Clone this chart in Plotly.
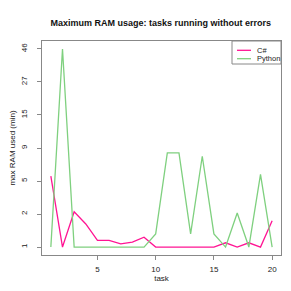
import numpy as np
import plotly.graph_objects as go

tasks = list(range(1, 21))
csharp = [5.6, 1, 2.2, 1.7, 1.2, 1.2, 1.1, 1.15, 1.3, 1, 1, 1, 1, 1, 1, 1.13, 1, 1.13, 1, 1.8]
python = [1, 46, 1, 1, 1, 1, 1, 1, 1, 1.4, 8.4, 8.4, 1.4, 8.0, 1.4, 1, 2.1, 1, 5.8, 1]
tick_labels = [1, 2, 5, 9, 15, 27, 46]
series_names = ["C#", "Python"]
series_colors = ["#FF1493", "#7FD07F"]

tick_pos = list(range(len(tick_labels)))


def to_axis(v):
    return np.interp(v, tick_labels, tick_pos)


fig = go.Figure()
for name, vals, col in zip(series_names, [csharp, python], series_colors):
    fig.add_trace(go.Scatter(x=tasks, y=to_axis(vals), mode="lines", name=name,
                             line=dict(color=col, width=1.3), showlegend=False))

# plot area in pixels: x 34..273, y 33..247
L, R, T, B = 34, 273, 33, 247


def px(x):
    return (x - L) / (R - L)


def py(y):
    return (B - y) / (B - T)


# manual compact legend (R style)
fig.add_shape(type="rect", xref="paper", yref="paper",
              x0=px(224), x1=px(273), y0=py(56), y1=py(33),
              line=dict(color="#888", width=1), fillcolor="white", layer="above")
for i, (name, col) in enumerate(zip(series_names, series_colors)):
    yy = 42.3 + i * 8.4
    fig.add_shape(type="line", xref="paper", yref="paper",
                  x0=px(229), x1=px(243), y0=py(yy), y1=py(yy),
                  line=dict(color=col, width=1.3), layer="above")
    fig.add_annotation(xref="paper", yref="paper", x=px(247), y=py(yy),
                       text=name, showarrow=False, xanchor="left", yanchor="middle",
                       font=dict(size=7.5, color="#222"))

font = "Liberation Sans, Arial, sans-serif"
fig.update_layout(
    width=291, height=291,
    margin=dict(l=L, r=291 - R, t=T, b=291 - B),
    paper_bgcolor="white", plot_bgcolor="white",
    font=dict(family=font, size=8, color="#222"),
    title=dict(text="<b>Maximum RAM usage: tasks running without errors</b>",
               x=0.525, xanchor="center", y=1 - 15 / 291, yanchor="middle",
               font=dict(size=9, color="#111")),
    showlegend=False,
    xaxis=dict(range=[0.24, 20.76], tickvals=[5, 10, 15, 20], automargin=False,
               showgrid=False, zeroline=False, showline=True, mirror=True,
               linecolor="#888", linewidth=1, ticks="outside", ticklen=4,
               tickcolor="#888", ticklabelstandoff=2,
               title=dict(text="task", font=dict(size=8, color="#222"), standoff=2)),
    yaxis=dict(range=[-0.24, 6.24], tickvals=tick_pos, automargin=False,
               ticktext=[str(t) for t in tick_labels], tickangle=-90,
               showgrid=False, zeroline=False, showline=True, mirror=True,
               linecolor="#888", linewidth=1, ticks="outside", ticklen=4,
               tickcolor="#888", ticklabelstandoff=7,
               title=dict(text="max RAM used (min)", font=dict(size=8, color="#222"), standoff=12)),
)

fig.write_html("out.html")
